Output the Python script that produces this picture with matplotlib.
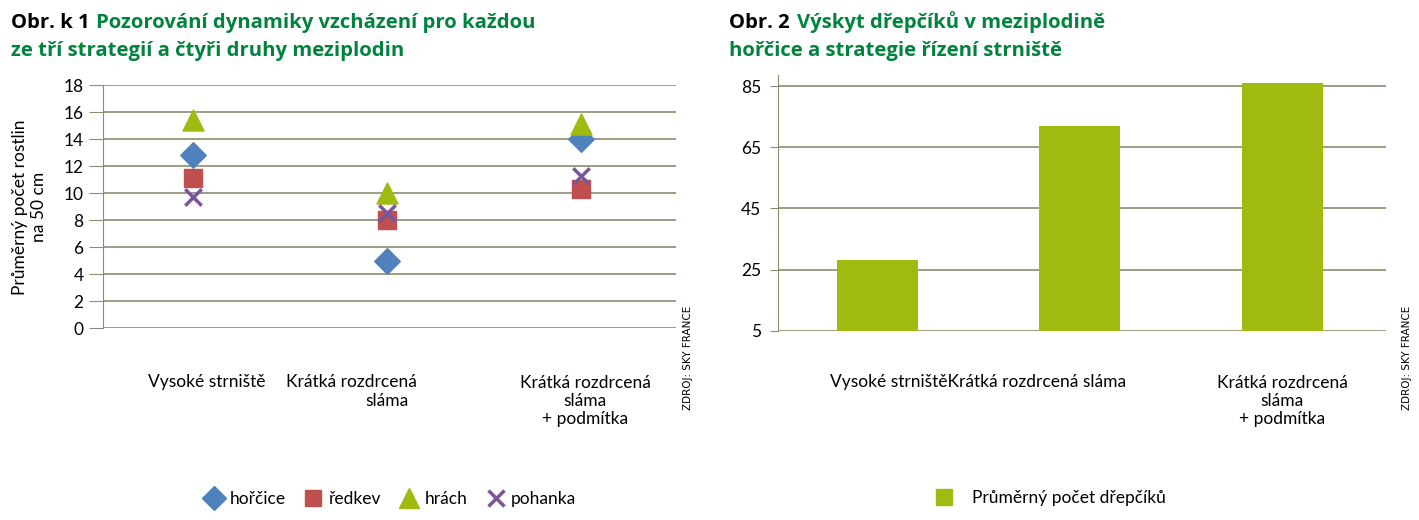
import matplotlib.pyplot as plt
from matplotlib.lines import Line2D

plt.rcParams['font.family'] = ['Lato', 'DejaVu Sans']

# data
strategies = ["Vysoké strniště", "Krátká rozdrcená sláma", "Krátká rozdrcená sláma + podmítka"]
horcice = [12.8, 5.0, 14.0]
redkev = [11.1, 8.0, 10.3]
hrach = [15.4, 10.0, 15.1]
pohanka = [9.75, 8.55, 11.3]
drepcik = [28.2, 71.9, 86.1]
y_ticks_1 = [0, 2, 4, 6, 8, 10, 12, 14, 16, 18]
y_ticks_2 = [5, 25, 45, 65, 85]

BLUE = "#4F81BD"
RED = "#C0504D"
GREEN = "#A0BA0F"
PURPLE = "#7A559A"
GRID = "#8C8C6E"
TITLE_GREEN = "#00843D"

fig = plt.figure(figsize=(14.19, 5.2), dpi=100)

# ---- left chart: scatter
ax1 = fig.add_axes([103 / 1419, 0.3687, 573 / 1419, 0.4673])
x = [0, 1, 2]
ax1.scatter(x, horcice, marker="D", s=170, color=BLUE, zorder=3)
ax1.scatter(x, redkev, marker="s", s=150, color=RED, zorder=3)
ax1.scatter(x, hrach, marker="^", s=230, color=GREEN, zorder=3)
ax1.scatter(x, pohanka, marker="x", s=140, color=PURPLE, linewidths=2.5, zorder=4)
ax1.set_xlim(-0.464, 2.49)
ax1.set_ylim(0, 18)
ax1.set_yticks(y_ticks_1)
ax1.set_xticks([])
ax1.grid(axis="y", color=GRID, linewidth=1.2)
for s in ["top", "right", "bottom"]:
    ax1.spines[s].set_visible(False)
ax1.spines["left"].set_color(GRID)
ax1.tick_params(axis="y", direction="out", length=10, color=GRID, labelsize=12.5, pad=4)
ax1.set_axisbelow(True)
ax1.set_ylabel("Průměrný počet rostlin\nna 50 cm", fontsize=12.5, labelpad=12)

# ---- right chart: bars
ax2 = fig.add_axes([778 / 1419, 0.3635, 608 / 1419, 0.4923])
ax2.bar(x, drepcik, width=0.4, color=GREEN, bottom=0, zorder=3)
ax2.set_xlim(-0.491, 2.511)
ax2.set_ylim(5, 88.6)
ax2.set_yticks(y_ticks_2)
ax2.set_xticks([])
ax2.grid(axis="y", color=GRID, linewidth=1.2)
for s in ["top", "right", "bottom"]:
    ax2.spines[s].set_visible(False)
ax2.spines["left"].set_color(GRID)
ax2.tick_params(axis="y", direction="out", length=6, color=GRID, labelsize=12.5, pad=6)
ax2.set_axisbelow(True)

# titles
tfont = dict(fontsize=14.6, fontweight="bold", va="baseline", family=["Open Sans", "DejaVu Sans"])
fig.text(11 / 1419, 1 - 28 / 520, "Obr. k 1", color="black", **tfont)
fig.text(96 / 1419, 1 - 28 / 520, "Pozorování dynamiky vzcházení pro každou", color=TITLE_GREEN, **tfont)
fig.text(11 / 1419, 1 - 56 / 520, "ze tří strategií a čtyři druhy meziplodin", color=TITLE_GREEN, **tfont)
fig.text(729 / 1419, 1 - 28 / 520, "Obr. 2", color="black", **tfont)
fig.text(797 / 1419, 1 - 28 / 520, "Výskyt dřepčíků v meziplodině", color=TITLE_GREEN, **tfont)
fig.text(729 / 1419, 1 - 56 / 520, "hořčice a strategie řízení strniště", color=TITLE_GREEN, **tfont)

# category labels, left chart
lab = dict(fontsize=12.5, ha="center", va="center")
fig.text(207 / 1419, 1 - 382 / 520, "Vysoké strniště", **lab)
fig.text(351 / 1419, 1 - 382 / 520, "Krátká rozdrcená", **lab)
fig.text(387 / 1419, 1 - 401 / 520, "sláma", **lab)
fig.text(585 / 1419, 1 - 401 / 520, "Krátká rozdrcená\nsláma\n+ podmítka", linespacing=1.12, **lab)

# category labels, right chart
fig.text(830 / 1419, 1 - 382 / 520, "Vysoké strništěKrátká rozdrcená sláma", fontsize=12.5,
         ha="left", va="center")
fig.text(1282 / 1419, 1 - 401 / 520, "Krátká rozdrcená\nsláma\n+ podmítka", linespacing=1.12, **lab)

# sources
fig.text(688 / 1419, 1 - 410 / 520, "ZDROJ: SKY FRANCE", fontsize=7.5, rotation=90,
         ha="center", va="bottom", family="DejaVu Sans")
fig.text(1407 / 1419, 1 - 410 / 520, "ZDROJ: SKY FRANCE", fontsize=7.5, rotation=90,
         ha="center", va="bottom", family="DejaVu Sans")

# legends
h1 = [
    Line2D([], [], marker="D", color=BLUE, linestyle="", markersize=12),
    Line2D([], [], marker="s", color=RED, linestyle="", markersize=12),
    Line2D([], [], marker="^", color=GREEN, linestyle="", markersize=14),
    Line2D([], [], marker="x", color=PURPLE, linestyle="", markersize=11, markeredgewidth=2.5),
]
fig.legend(h1, ["hořčice", "ředkev", "hrách", "pohanka"], loc="center",
           bbox_to_anchor=(390 / 1419, 1 - 499 / 520), ncol=4, frameon=False, fontsize=12.5,
           handletextpad=0.3, columnspacing=1.0, handlelength=1.2)
h2 = [Line2D([], [], marker="s", color=GREEN, linestyle="", markersize=11)]
fig.legend(h2, ["Průměrný počet dřepčíků"], loc="center",
           bbox_to_anchor=(1050 / 1419, 1 - 498 / 520), frameon=False, fontsize=12.5,
           handletextpad=1.0, handlelength=1.2)

fig.savefig("out.png", dpi=100)
